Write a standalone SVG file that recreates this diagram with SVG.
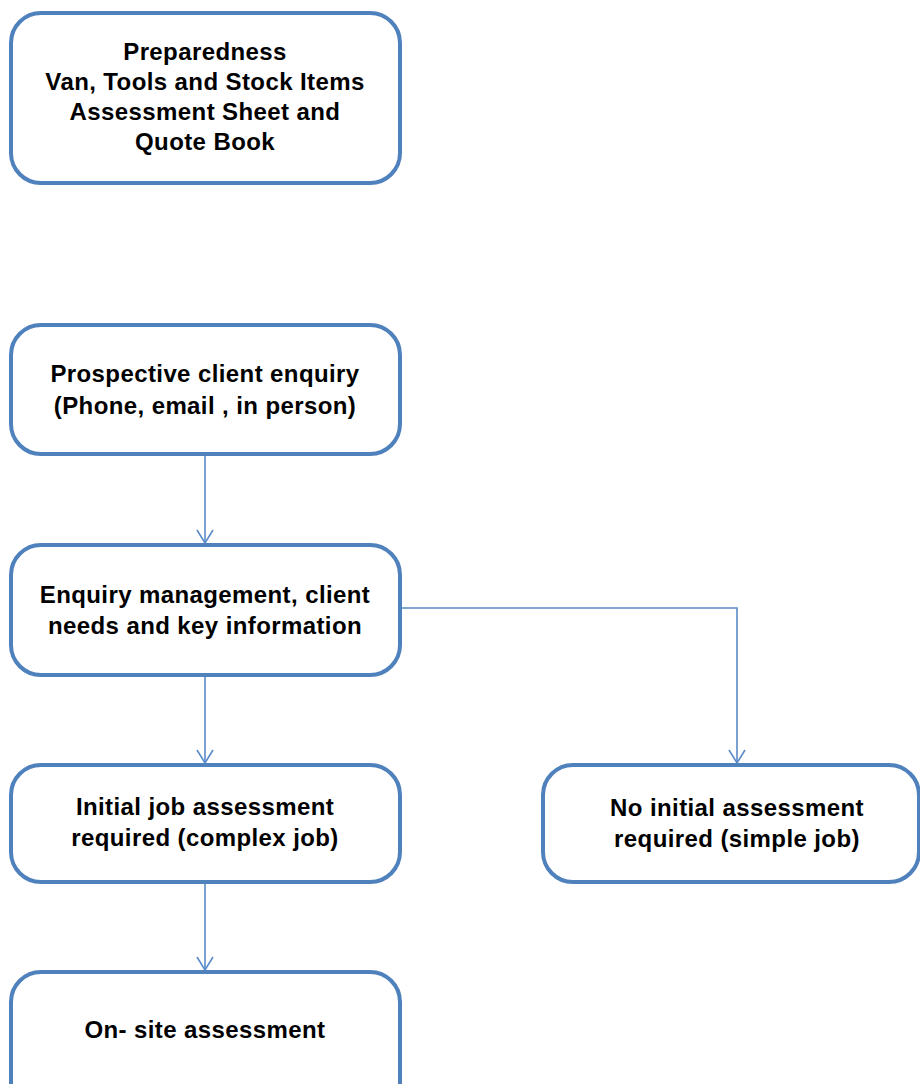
<svg xmlns="http://www.w3.org/2000/svg" width="920" height="1084" viewBox="0 0 920 1084">
<defs>
<style>
.box{fill:#ffffff;stroke:#4f81bd;stroke-width:4}
.lbl{font-family:"Liberation Sans",Arial,sans-serif;font-weight:bold;font-size:24px;fill:#000000;text-anchor:middle;letter-spacing:0.4px}
.conn{fill:none;stroke:#5b8bc9;stroke-width:1.6}
</style>
<marker id="arr" markerUnits="userSpaceOnUse" markerWidth="20" markerHeight="20" viewBox="-16 -10 20 20" refX="0" refY="0" orient="auto" overflow="visible">
<path d="M-13,-8 L0,0 L-13,8" fill="none" stroke="#5b8bc9" stroke-width="1.6"/>
</marker>
</defs>
<rect width="920" height="1084" fill="#ffffff"/>
<g id="connectors">
<path class="conn" d="M205,455 V543" marker-end="url(#arr)"/>
<path class="conn" d="M400,608 H737 V763" marker-end="url(#arr)"/>
<path class="conn" d="M205,677 V763" marker-end="url(#arr)"/>
<path class="conn" d="M205,884 V970" marker-end="url(#arr)"/>
</g>
<g id="n1">
<rect class="box" x="11" y="13" width="389" height="170" rx="30"/>
<text class="lbl" x="205" y="60">Preparedness</text>
<text class="lbl" x="205" y="90">Van, Tools and Stock Items</text>
<text class="lbl" x="205" y="120">Assessment Sheet and</text>
<text class="lbl" x="205" y="150">Quote Book</text>
</g>
<g id="n2">
<rect class="box" x="11" y="325" width="389" height="129" rx="30"/>
<text class="lbl" x="205" y="382">Prospective client enquiry</text>
<text class="lbl" x="205" y="414">(Phone, email , in person)</text>
</g>
<g id="n3">
<rect class="box" x="11" y="545" width="389" height="130" rx="30"/>
<text class="lbl" x="205" y="603">Enquiry management, client</text>
<text class="lbl" x="205" y="634">needs and key information</text>
</g>
<g id="n4">
<rect class="box" x="11" y="765" width="389" height="117" rx="30"/>
<text class="lbl" x="205" y="815">Initial job assessment</text>
<text class="lbl" x="205" y="846">required (complex job)</text>
</g>
<g id="n5">
<rect class="box" x="543" y="765" width="376" height="117" rx="30"/>
<text class="lbl" x="737" y="816">No initial assessment</text>
<text class="lbl" x="737" y="847">required (simple job)</text>
</g>
<g id="n6">
<rect class="box" x="11" y="972" width="389" height="140" rx="30"/>
<text class="lbl" x="205" y="1038">On- site assessment</text>
</g>
</svg>
